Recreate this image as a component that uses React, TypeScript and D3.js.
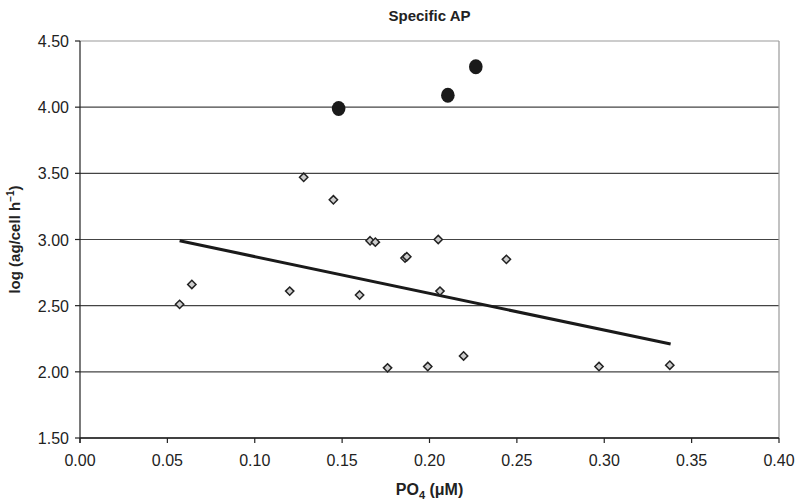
import React from "react";
import * as d3 from "d3";

const diamondX = [0.057, 0.064, 0.120, 0.128, 0.145, 0.166, 0.169, 0.160, 0.176, 0.186, 0.187, 0.199, 0.205, 0.206, 0.2195, 0.244, 0.297, 0.3375];
const diamondY = [2.51, 2.66, 2.61, 3.47, 3.30, 2.99, 2.98, 2.58, 2.03, 2.86, 2.87, 2.04, 3.00, 2.61, 2.12, 2.85, 2.04, 2.05];
const dotX = [0.148, 0.2105, 0.2265];
const dotY = [3.99, 4.09, 4.305];
const trendX = [0.057, 0.338];
const trendY = [2.99, 2.21];
const xTicks = [0, 0.05, 0.1, 0.15, 0.2, 0.25, 0.3, 0.35, 0.4];
const yTicks = [1.5, 2.0, 2.5, 3.0, 3.5, 4.0, 4.5];

const W = 796, H = 502;
const left = 80, right = 779, top = 41, bottom = 438;
const FONT = "'Liberation Sans', Arial, sans-serif";

export default function App() {
  const x = d3.scaleLinear().domain([0, 0.4]).range([left, right]);
  const y = d3.scaleLinear().domain([1.5, 4.5]).range([bottom, top]);
  const line = d3.line<number>().x((_, i) => x(trendX[i])).y((_, i) => y(trendY[i]));
  const diamond = d3.symbol().type(d3.symbolDiamond2).size(44)();
  const cx = (left + right) / 2;
  return (
    <svg width={W} height={H} style={{ position: "absolute", left: 0, top: 0 }}>
      <rect width={W} height={H} fill="#fff" />
      <text x={cx} y={21} textAnchor="middle" fontFamily={FONT} fontWeight="bold" fontSize={15} fill="#222">Specific AP</text>
      {yTicks.map((t) => (
        <line key={t} x1={left} x2={right} y1={y(t)} y2={y(t)} stroke={t === 4.5 ? "#999" : "#444"} strokeWidth={1.2} />
      ))}
      <line x1={right} x2={right} y1={top} y2={bottom} stroke="#999" strokeWidth={1.2} />
      <line x1={left} x2={left} y1={top} y2={bottom + 5} stroke="#222" strokeWidth={1.2} />
      <line x1={left} x2={right} y1={bottom} y2={bottom} stroke="#222" strokeWidth={1.4} />
      {yTicks.map((t) => (
        <g key={"y" + t}>
          <line x1={left - 5} x2={left} y1={y(t)} y2={y(t)} stroke="#222" strokeWidth={1.2} />
          <text x={left - 11} y={y(t) + 6} textAnchor="end" fontFamily={FONT} fontSize={16} fill="#222">{t.toFixed(2)}</text>
        </g>
      ))}
      {xTicks.map((t) => (
        <g key={"x" + t}>
          <line x1={x(t)} x2={x(t)} y1={bottom} y2={bottom + 5} stroke="#222" strokeWidth={1.2} />
          <text x={x(t)} y={bottom + 28} textAnchor="middle" fontFamily={FONT} fontSize={16} fill="#222">{t.toFixed(2)}</text>
        </g>
      ))}
      <text x={cx} y={495} textAnchor="middle" fontFamily={FONT} fontWeight="bold" fontSize={16} fill="#222">
        PO<tspan fontSize={11} dy={4}>4</tspan><tspan dy={-4}> (μM)</tspan>
      </text>
      <text transform={`translate(20,${(top + bottom) / 2}) rotate(-90)`} textAnchor="middle" fontFamily={FONT} fontWeight="bold" fontSize={15} fill="#222">
        log (ag/cell h<tspan fontSize={10} dy={-6}>−1</tspan><tspan dy={6}>)</tspan>
      </text>
      <path d={line(trendX) || ""} fill="none" stroke="#1a1a1a" strokeWidth={3} />
      {diamondX.map((v, i) => (
        <path key={"d" + i} d={diamond || ""} transform={`translate(${x(v)},${y(diamondY[i])})`} fill="#ccc" stroke="#222" strokeWidth={1.5} />
      ))}
      {dotX.map((v, i) => (
        <ellipse key={"e" + i} cx={x(v)} cy={y(dotY[i])} rx={6.8} ry={7.5} fill="#1a1a1a" />
      ))}
    </svg>
  );
}
